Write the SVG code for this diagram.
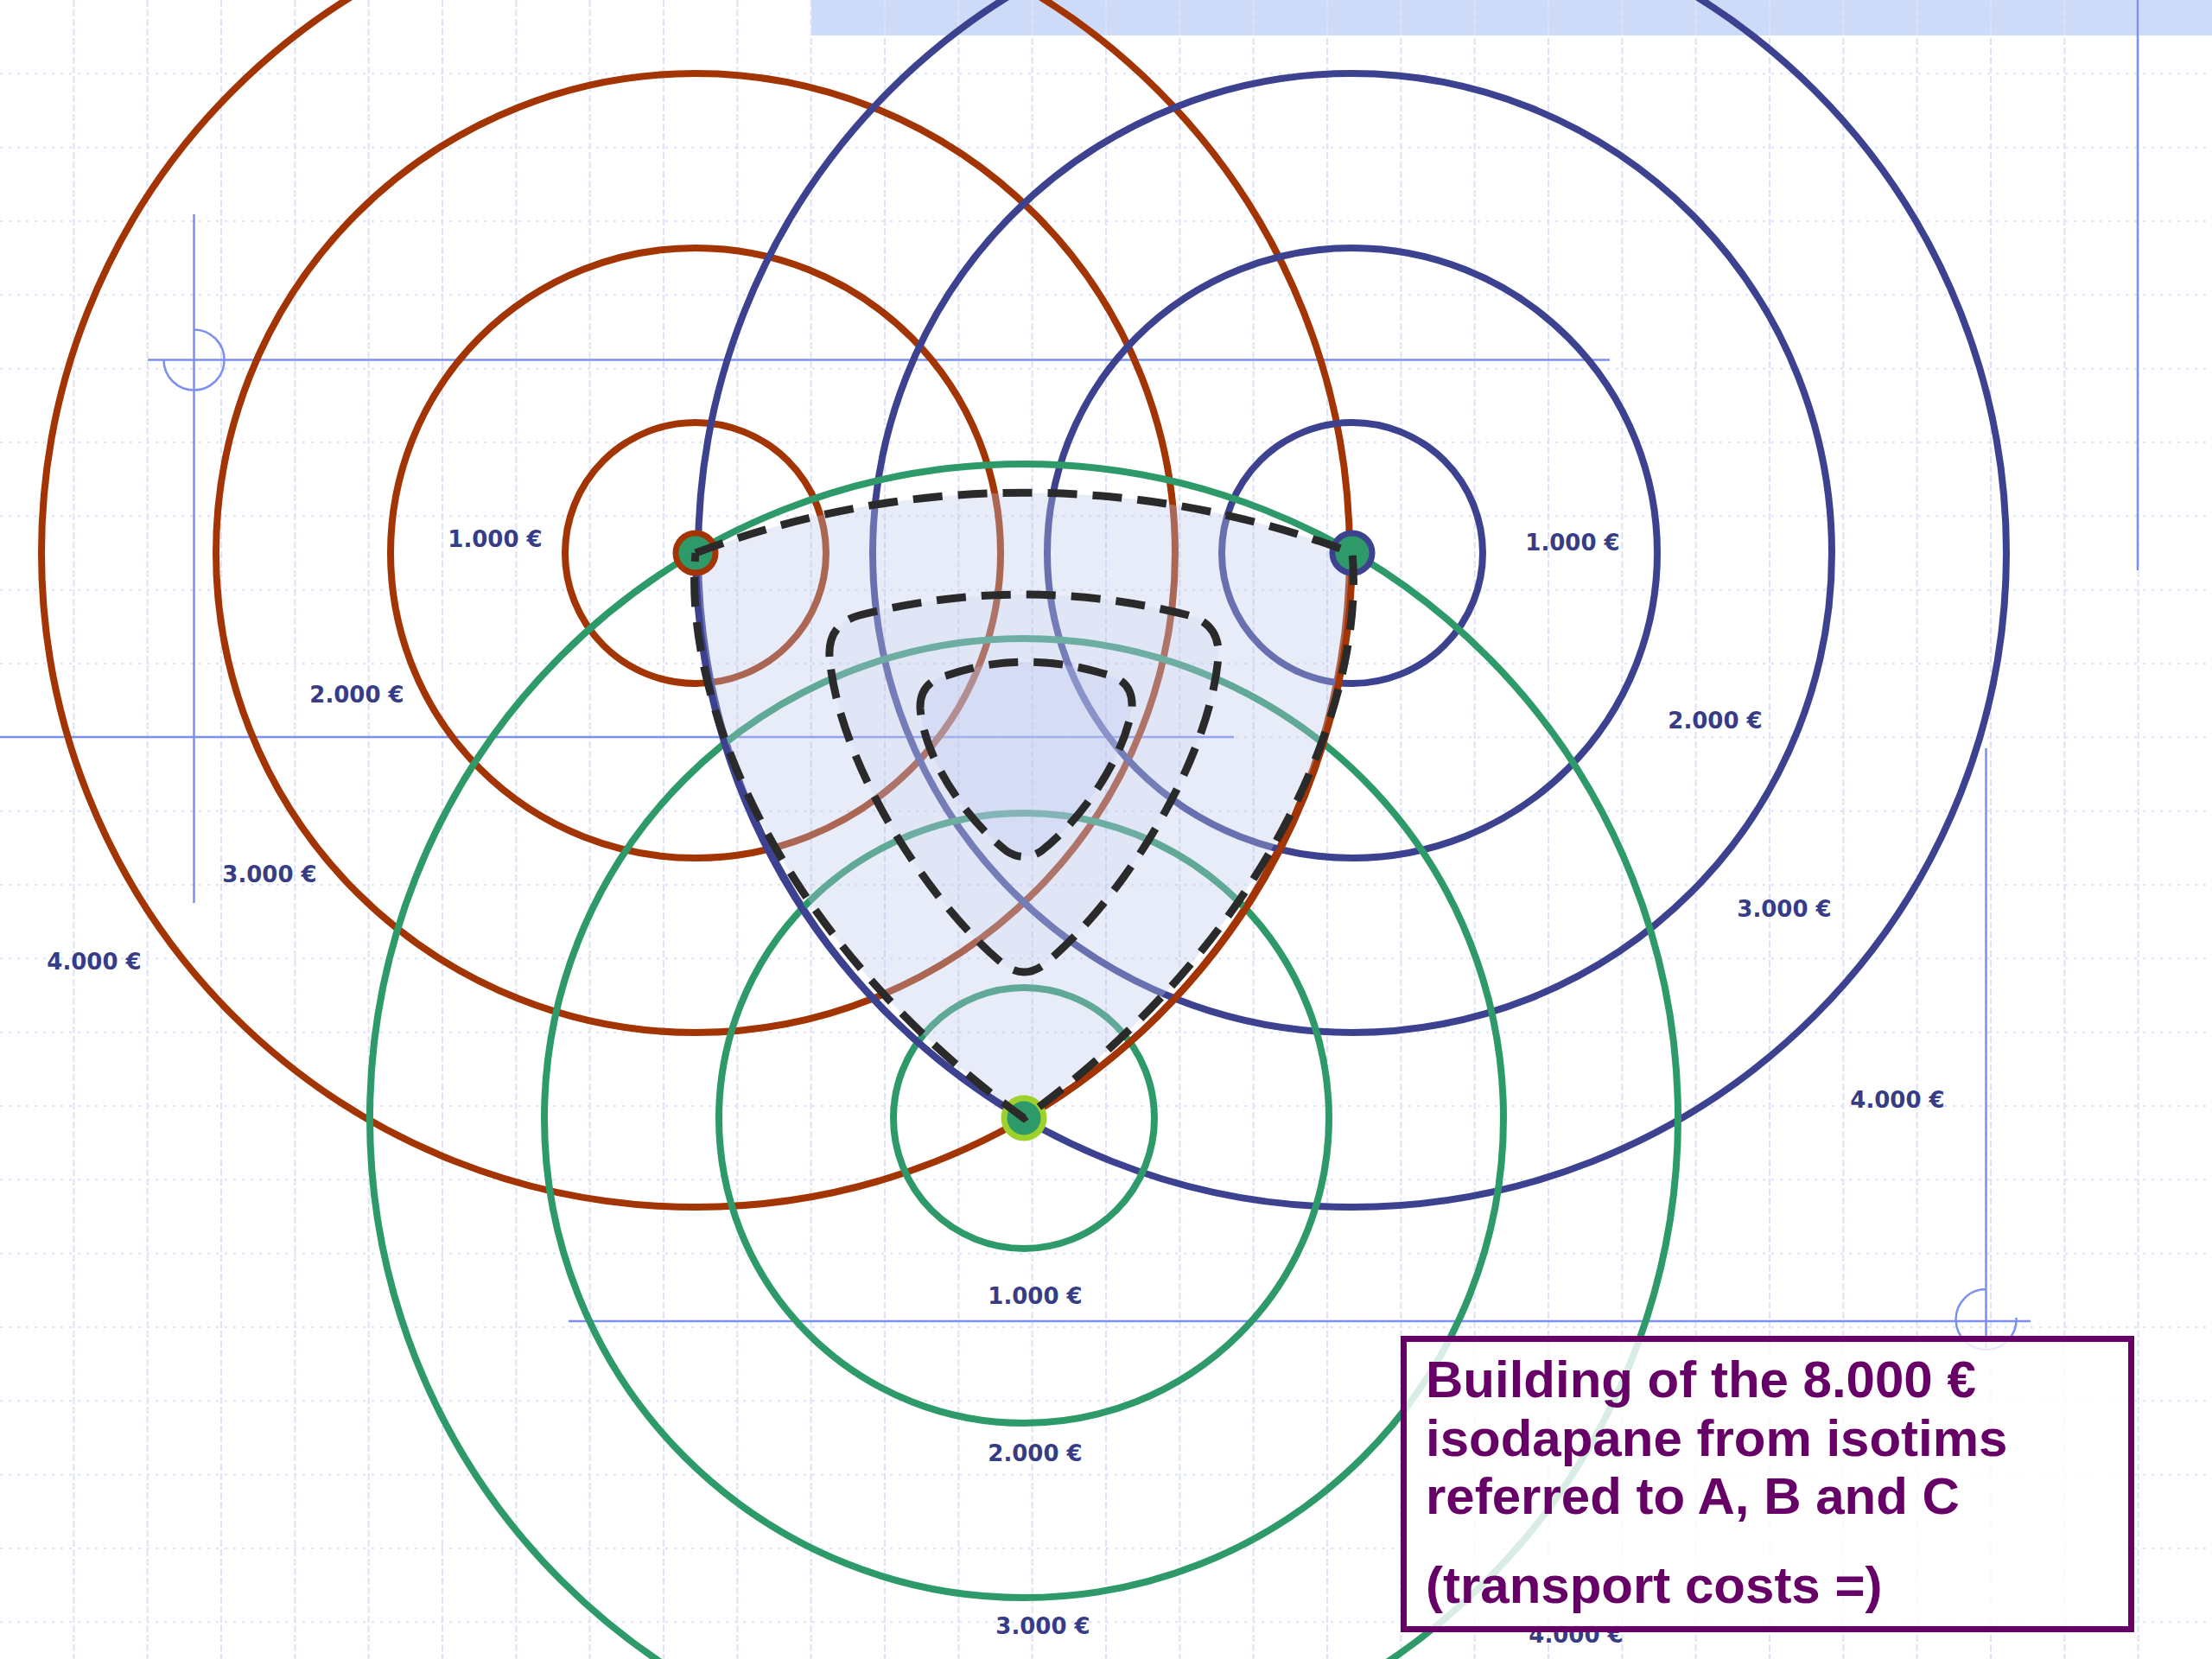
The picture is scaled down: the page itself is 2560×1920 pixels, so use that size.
<svg xmlns="http://www.w3.org/2000/svg" width="2560" height="1920" viewBox="0 0 2560 1920">
<style>
.gv{stroke:#dde2f8;stroke-width:2;stroke-dasharray:8 3;fill:none}
.gh{stroke:#dde2f8;stroke-width:2;stroke-dasharray:3 7;fill:none}
.tl{stroke:#7c90ef;stroke-width:2.5;fill:none}
.ring{fill:none;stroke-width:8}
.a{stroke:#a33404}
.b{stroke:#3d4290}
.c{stroke:#2f9a69}
.dash{fill:none;stroke:#2a2a2a;stroke-width:9;stroke-dasharray:34 18}
.shade{fill:#bdc6eb}
.dot{fill:#2f9a69;stroke-width:7}
.lbl{font-family:"DejaVu Sans","Liberation Sans",sans-serif;font-weight:bold;font-size:26px;fill:#363c86;text-anchor:middle}
.note{font-family:"Liberation Sans","DejaVu Sans",sans-serif;font-weight:bold;font-size:60px;fill:#660066}
</style>
<rect width="2560" height="1920" fill="#ffffff"/>
<rect x="939" y="0" width="1621" height="41" fill="#cddaf8"/>
<g id="grid">
<path class="gv" d="M85.33 0V1920M170.67 0V1920M256 0V1920M341.33 0V1920M426.67 0V1920M512 0V1920M597.33 0V1920M682.67 0V1920M768 0V1920M853.33 0V1920M938.67 0V1920M1024 0V1920M1109.33 0V1920M1194.67 0V1920M1280 0V1920M1365.33 0V1920M1450.67 0V1920M1536 0V1920M1621.33 0V1920M1706.67 0V1920M1792 0V1920M1877.33 0V1920M1962.67 0V1920M2048 0V1920M2133.33 0V1920M2218.67 0V1920M2304 0V1920M2389.33 0V1920M2474.67 0V1920"/>
<path class="gh" d="M0 85.33H2560M0 170.67H2560M0 256H2560M0 341.33H2560M0 426.67H2560M0 512H2560M0 597.33H2560M0 682.67H2560M0 768H2560M0 853.33H2560M0 938.67H2560M0 1024H2560M0 1109.33H2560M0 1194.67H2560M0 1280H2560M0 1365.33H2560M0 1450.67H2560M0 1536H2560M0 1621.33H2560M0 1706.67H2560M0 1792H2560M0 1877.33H2560"/>
</g>
<g id="construction-lines">
<path class="tl" d="M171 416.5H1863M224.5 248V1045M224.5 381.5A35 35 0 1 1 189.5 416.5"/>
<path class="tl" d="M0 853H1428"/>
<path class="tl" d="M2474 0V660"/>
<path class="tl" d="M2298.5 866V1560M658 1529H2350M2298.5 1492A35 35 0 1 0 2333.5 1525"/>
</g>
<g id="isotims-A">
<circle class="ring a" cx="805" cy="640" r="151"/>
<circle class="ring a" cx="805" cy="640" r="353"/>
<circle class="ring a" cx="805" cy="640" r="555"/>
<circle class="ring a" cx="805" cy="640" r="757"/>
</g>
<g id="isotims-B">
<circle class="ring b" cx="1565" cy="640" r="151"/>
<circle class="ring b" cx="1565" cy="640" r="353"/>
<circle class="ring b" cx="1565" cy="640" r="555"/>
<circle class="ring b" cx="1565" cy="640" r="757"/>
</g>
<g id="isotims-C">
<circle class="ring c" cx="1185" cy="1294" r="151"/>
<circle class="ring c" cx="1185" cy="1294" r="353"/>
<circle class="ring c" cx="1185" cy="1294" r="555"/>
<circle class="ring c" cx="1185" cy="1294" r="757"/>
</g>
<g id="isodapane-area">
<path class="shade" fill-opacity="0.35" d="M805 640A1069 1069 0 0 1 1565 640C1580 800 1480 1080 1185 1294C890 1080 790 800 805 640Z"/>
<path class="shade" fill-opacity="0.15" d="M960 760Q958 722 995 712Q1185 664 1375 712Q1412 722 1410 760C1400 880 1300 1040 1210 1115Q1185 1135 1160 1115C1070 1040 970 880 960 760Z"/>
<path class="shade" fill-opacity="0.3" d="M1065 820Q1064 790 1095 782Q1185 750 1285 782Q1312 790 1310 820C1300 880 1250 950 1205 985Q1185 998 1165 985C1120 950 1070 880 1065 820Z"/>
<path class="ring b" d="M805 640A757 757 0 0 0 1185 1294"/>
<path class="ring a" d="M1565 640A757 757 0 0 1 1185 1294"/>
</g>
<g id="point-A"><circle class="dot a" cx="805" cy="640" r="23"/></g>
<g id="point-B"><circle class="dot b" cx="1565" cy="640" r="23"/></g>
<g id="point-C"><circle class="dot" stroke="#9ed12c" cx="1185" cy="1294" r="23"/></g>
<g id="isodapanes">
<path class="dash" d="M805 640A1069 1069 0 0 1 1565 640C1580 800 1480 1080 1185 1294C890 1080 790 800 805 640"/>
<path class="dash" d="M960 760Q958 722 995 712Q1185 664 1375 712Q1412 722 1410 760C1400 880 1300 1040 1210 1115Q1185 1135 1160 1115C1070 1040 970 880 960 760Z"/>
<path class="dash" d="M1065 820Q1064 790 1095 782Q1185 750 1285 782Q1312 790 1310 820C1300 880 1250 950 1205 985Q1185 998 1165 985C1120 950 1070 880 1065 820Z"/>
</g>
<g id="labels">
<text class="lbl" x="573" y="633">1.000 €</text>
<text class="lbl" x="413" y="813">2.000 €</text>
<text class="lbl" x="312" y="1021">3.000 €</text>
<text class="lbl" x="109" y="1122">4.000 €</text>
<text class="lbl" x="1820" y="637">1.000 €</text>
<text class="lbl" x="1985" y="843">2.000 €</text>
<text class="lbl" x="2065" y="1061">3.000 €</text>
<text class="lbl" x="2196" y="1282">4.000 €</text>
<text class="lbl" x="1198" y="1509">1.000 €</text>
<text class="lbl" x="1198" y="1691">2.000 €</text>
<text class="lbl" x="1207" y="1891">3.000 €</text>
<text class="lbl" x="1824" y="1901">4.000 €</text>
</g>
<g id="note">
<rect x="1624.5" y="1549.5" width="842" height="336" fill="#ffffff" fill-opacity="0.82" stroke="#660066" stroke-width="7"/>
<text class="note" x="1650" y="1617">Building of the 8.000 €</text>
<text class="note" x="1650" y="1685">isodapane from isotims</text>
<text class="note" x="1650" y="1752">referred to A, B and C</text>
<text class="note" x="1650" y="1855">(transport costs =)</text>
</g>
</svg>
